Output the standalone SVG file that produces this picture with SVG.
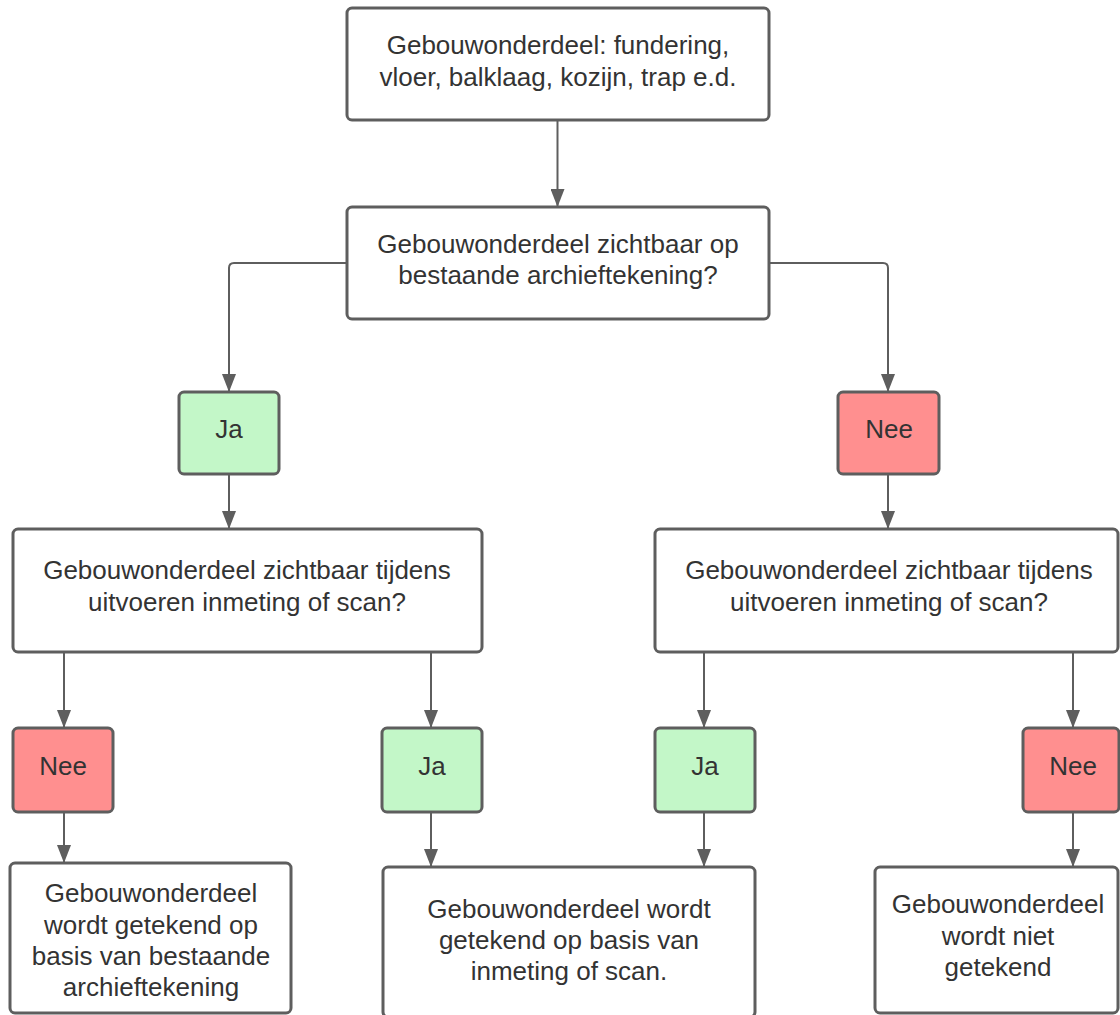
<svg xmlns="http://www.w3.org/2000/svg" width="1120" height="1015" viewBox="0 0 1120 1015">
<defs>
<marker id="ah" markerWidth="18" markerHeight="14" refX="17" refY="7" orient="auto" markerUnits="userSpaceOnUse">
<path d="M0,0 L18,7 L0,14 Z" fill="#5e5e5e"/>
</marker>
<style>
.box{fill:#ffffff;stroke:#5e5e5e;stroke-width:3}
.ja{fill:#c3f7c8;stroke:#5e5e5e;stroke-width:3}
.nee{fill:#ff8f8f;stroke:#5e5e5e;stroke-width:3}
.t{font-family:"Liberation Sans",Arial,sans-serif;font-size:26px;fill:#333333;text-anchor:middle}
.c{fill:none;stroke:#5e5e5e;stroke-width:2;marker-end:url(#ah)}
</style>
</defs>
<rect width="1120" height="1015" fill="#ffffff"/>
<g id="connectors">
<path class="c" d="M557.5,121 V206"/>
<path class="c" d="M347,263 H234 Q229,263 229,268 V391"/>
<path class="c" d="M769,263 H883 Q888,263 888,268 V391"/>
<path class="c" d="M229,475 V528"/>
<path class="c" d="M888,475 V528"/>
<path class="c" d="M64,653 V727"/>
<path class="c" d="M431,653 V727"/>
<path class="c" d="M704,653 V727"/>
<path class="c" d="M1073,653 V727"/>
<path class="c" d="M64,813 V862"/>
<path class="c" d="M431,813 V866"/>
<path class="c" d="M704,813 V866"/>
<path class="c" d="M1073,813 V866"/>
</g>
<g id="n1">
<rect class="box" x="347" y="8" width="422" height="112" rx="5"/>
<text class="t" x="558" y="54">Gebouwonderdeel: fundering,</text>
<text class="t" x="558" y="86">vloer, balklaag, kozijn, trap e.d.</text>
</g>
<g id="n2">
<rect class="box" x="347" y="207" width="422" height="112" rx="5"/>
<text class="t" x="558" y="253">Gebouwonderdeel zichtbaar op</text>
<text class="t" x="558" y="284">bestaande archieftekening?</text>
</g>
<g id="n3">
<rect class="ja" x="179" y="392" width="100" height="82" rx="5"/>
<text class="t" x="229" y="438">Ja</text>
</g>
<g id="n4">
<rect class="nee" x="838" y="392" width="101" height="82" rx="5"/>
<text class="t" x="889" y="438">Nee</text>
</g>
<g id="n5">
<rect class="box" x="13" y="529" width="469" height="123" rx="5"/>
<text class="t" x="247" y="579">Gebouwonderdeel zichtbaar tijdens</text>
<text class="t" x="247" y="611">uitvoeren inmeting of scan?</text>
</g>
<g id="n6">
<rect class="box" x="655" y="529" width="463" height="123" rx="5"/>
<text class="t" x="889" y="579">Gebouwonderdeel zichtbaar tijdens</text>
<text class="t" x="889" y="611">uitvoeren inmeting of scan?</text>
</g>
<g id="n7">
<rect class="nee" x="13" y="728" width="100" height="84" rx="5"/>
<text class="t" x="63" y="775">Nee</text>
</g>
<g id="n8">
<rect class="ja" x="382" y="728" width="100" height="84" rx="5"/>
<text class="t" x="432" y="775">Ja</text>
</g>
<g id="n9">
<rect class="ja" x="655" y="728" width="100" height="84" rx="5"/>
<text class="t" x="705" y="775">Ja</text>
</g>
<g id="n10">
<rect class="nee" x="1023" y="728" width="96" height="84" rx="5"/>
<text class="t" x="1073" y="775">Nee</text>
</g>
<g id="n11">
<rect class="box" x="10" y="863" width="281" height="150" rx="5"/>
<text class="t" x="151" y="902">Gebouwonderdeel</text>
<text class="t" x="151" y="934">wordt getekend op</text>
<text class="t" x="151" y="965">basis van bestaande</text>
<text class="t" x="151" y="996">archieftekening</text>
</g>
<g id="n12">
<rect class="box" x="383" y="867" width="372" height="150" rx="5"/>
<text class="t" x="569" y="918">Gebouwonderdeel wordt</text>
<text class="t" x="569" y="949">getekend op basis van</text>
<text class="t" x="569" y="980">inmeting of scan.</text>
</g>
<g id="n13">
<rect class="box" x="875" y="867" width="243" height="146" rx="5"/>
<text class="t" x="998" y="913">Gebouwonderdeel</text>
<text class="t" x="998" y="945">wordt niet</text>
<text class="t" x="998" y="976">getekend</text>
</g>
</svg>
